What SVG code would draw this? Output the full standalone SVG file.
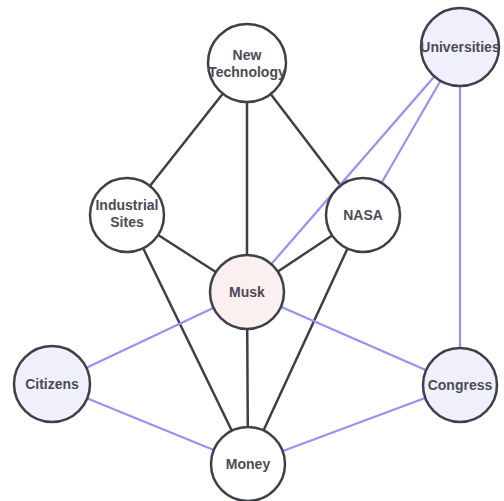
<svg xmlns="http://www.w3.org/2000/svg" width="504" height="501" viewBox="0 0 504 501">
<style>
.dark{stroke:#3d4049;stroke-width:2.5;fill:none;stroke-linecap:round}
.blue{stroke:#9393f3;stroke-width:2.2;fill:none;stroke-linecap:round}
.node circle{stroke:#3d4049;stroke-width:2.5}
.plain{fill:#ffffff}
.ext{fill:#f0f0fd}
.musk{fill:#fcefef}
text{font-family:"Liberation Sans",Arial,sans-serif;font-weight:bold;font-size:14px;fill:#4a4c55;text-anchor:middle}
</style>
<rect width="504" height="501" fill="#ffffff"/>
<g id="connectors">
<line class="dark" x1="247" y1="63" x2="127" y2="215"/>
<line class="dark" x1="247" y1="63" x2="247" y2="292"/>
<line class="dark" x1="247" y1="63" x2="363" y2="215"/>
<line class="dark" x1="127" y1="215" x2="247" y2="292"/>
<line class="dark" x1="127" y1="215" x2="248" y2="464"/>
<line class="dark" x1="363" y1="215" x2="247" y2="292"/>
<line class="dark" x1="363" y1="215" x2="248" y2="464"/>
<line class="dark" x1="247" y1="292" x2="248" y2="464"/>
<line class="blue" x1="460" y1="47" x2="247" y2="292"/>
<line class="blue" x1="460" y1="47" x2="363" y2="215"/>
<line class="blue" x1="460" y1="47" x2="460" y2="385"/>
<line class="blue" x1="247" y1="292" x2="52" y2="384"/>
<line class="blue" x1="247" y1="292" x2="460" y2="385"/>
<line class="blue" x1="52" y1="384" x2="248" y2="464"/>
<line class="blue" x1="460" y1="385" x2="248" y2="464"/>
</g>
<g id="new-technology" class="node"><circle class="plain" cx="247" cy="63" r="39"/><text x="247" y="60">New</text><text x="247" y="77">Technology</text></g>
<g id="universities" class="node"><circle class="ext" cx="460" cy="47" r="39"/><text x="460" y="52">Universities</text></g>
<g id="industrial-sites" class="node"><circle class="plain" cx="127" cy="215" r="37"/><text x="127" y="210">Industrial</text><text x="127" y="227">Sites</text></g>
<g id="nasa" class="node"><circle class="plain" cx="363" cy="215" r="37"/><text x="363" y="220">NASA</text></g>
<g id="musk" class="node"><circle class="musk" cx="247" cy="292" r="37"/><text x="247" y="297">Musk</text></g>
<g id="citizens" class="node"><circle class="ext" cx="52" cy="384" r="38"/><text x="52" y="389">Citizens</text></g>
<g id="congress" class="node"><circle class="ext" cx="460" cy="385" r="37"/><text x="460" y="390">Congress</text></g>
<g id="money" class="node"><circle class="plain" cx="248" cy="464" r="37"/><text x="248" y="469">Money</text></g>
</svg>
